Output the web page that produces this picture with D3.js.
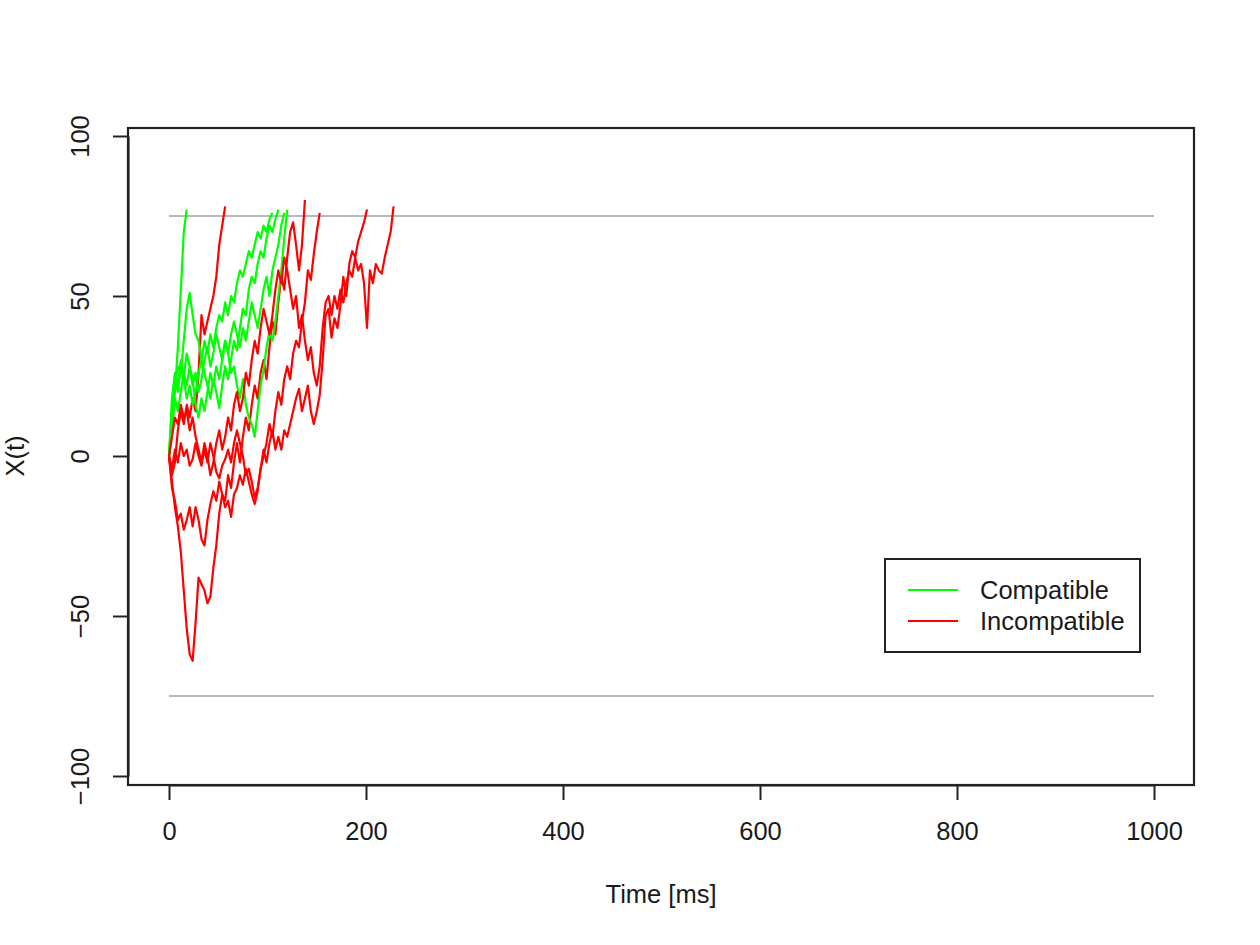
<!DOCTYPE html>
<html>
<head>
<meta charset="utf-8">
<script src="https://cdn.jsdelivr.net/npm/d3@7"></script>
<style>
  body { margin: 0; background: #fff; }
  svg text { font-family: "Liberation Sans", Arial, sans-serif; fill: #1a1a1a; }
</style>
</head>
<body>
<svg id="chart" width="1260" height="945"></svg>
<script>
// sampling step of the trials, in ms
var timeStep = 3;

// compatible trials, X(t) every 3 ms
var compatible1 = [0, 8, 20, 34, 52, 70, 77];
var compatible2 = [0, 12, 22, 28, 26, 36, 46, 51, 44, 38, 36, 30, 26, 22, 18, 24, 20, 15, 22, 28, 24, 30, 36, 33, 40, 46, 44, 52, 56, 54, 60, 64, 62, 68, 72, 70, 74, 77];
var compatible3 = [0, 15, 24, 20, 28, 25, 32, 28, 22, 26, 20, 24, 30, 34, 28, 32, 38, 34, 30, 36, 32, 26, 28, 22, 18, 24, 16, 12, 10, 6, 14, 22, 27, 34, 39, 36, 42, 50, 58, 68, 77];
var compatible4 = [0, 18, 26, 22, 30, 24, 18, 22, 16, 20, 26, 30, 36, 32, 38, 34, 40, 44, 42, 48, 44, 50, 48, 54, 58, 56, 60, 64, 62, 66, 70, 68, 72, 70, 74, 76];
var compatible5 = [0, 8, 18, 14, 20, 26, 22, 28, 24, 16, 12, 18, 14, 20, 26, 22, 28, 24, 30, 36, 32, 38, 42, 38, 34, 40, 36, 42, 48, 44, 40, 46, 52, 56, 50, 58, 62, 66, 72, 76];

// incompatible trials, X(t) every 3 ms
var incompatible1 = [0, -6, -2, 8, 14, 10, 16, 12, 18, 14, 26, 44, 38, 42, 46, 50, 56, 66, 72, 78];
var incompatible2 = [0, -8, -16, -22, -30, -42, -54, -62, -64, -52, -38, -40, -42, -46, -44, -35, -28, -18, -12, -14, -6, -10, -2, 4, -2, 6, 12, 8, 16, 22, 18, 26, 30, 24, 34, 42, 38, 48, 56, 52, 62, 70, 73, 66, 58, 66, 80];
var incompatible3 = [0, -10, -14, -20, -18, -23, -20, -16, -22, -16, -20, -26, -28, -20, -15, -11, -14, -8, -12, -16, -14, -19, -12, -10, -6, -9, -4, -8, -12, -15, -11, -4, 0, 4, 10, 6, 14, 20, 16, 24, 28, 24, 32, 36, 34, 42, 48, 58, 55, 63, 70, 76];
var incompatible4 = [0, -4, 2, -2, 4, 0, 2, -3, -1, 4, 0, -3, 2, -2, 4, 0, -5, -7, -3, -1, 2, -2, 4, 8, 4, 0, -6, -4, -8, -13, -10, -4, 2, -2, 4, 8, 2, 6, 2, 8, 6, 10, 14, 18, 21, 14, 18, 22, 14, 10, 14, 19, 30, 44, 46, 37, 43, 40, 47, 56, 50, 60, 64, 62, 67, 70, 73, 77];
var incompatible5 = [0, 6, 12, 10, 16, 12, 14, 8, 12, 6, 2, -2, 4, 0, -6, -2, 4, 8, 2, 6, 12, 8, 16, 20, 14, 18, 26, 22, 30, 36, 32, 40, 46, 42, 38, 44, 52, 58, 54, 62, 58, 52, 46, 50, 40, 44, 36, 30, 34, 26, 22, 28, 40, 48, 50, 44, 50, 46, 52, 48, 54, 58, 56, 62, 58, 60, 54, 40, 58, 54, 60, 58, 57, 62, 66, 70, 78];

var boundaries = [75, -75];
var xTicks = [0, 200, 400, 600, 800, 1000];
var yTicks = [-100, -50, 0, 50, 100];
var legendLabels = ["Compatible", "Incompatible"];

var compColor = "#00ff00",
    incompColor = "#ff0000";

// draw order as in the original (trials interleaved)
var trials = [
    { values: compatible1, color: compColor },
    { values: incompatible1, color: incompColor },
    { values: compatible2, color: compColor },
    { values: incompatible2, color: incompColor },
    { values: compatible3, color: compColor },
    { values: incompatible3, color: incompColor },
    { values: compatible4, color: compColor },
    { values: incompatible4, color: incompColor },
    { values: compatible5, color: compColor },
    { values: incompatible5, color: incompColor }
];

var svg = d3.select("#chart");

var x = d3.scaleLinear().domain([0, 1000]).range([169, 1154]),
    y = d3.scaleLinear().domain([-100, 100]).range([776, 136]);

var boxLeft = 128, boxRight = 1194, boxTop = 128, boxBottom = 785;
var fontSize = 25.5;

// boundary lines
svg.selectAll(".bound")
    .data(boundaries)
    .enter().append("line")
    .attr("class", "bound")
    .attr("x1", x(0))
    .attr("x2", x(1000))
    .attr("y1", function (d) { return y(d); })
    .attr("y2", function (d) { return y(d); })
    .attr("stroke", "#b8b8b8")
    .attr("stroke-width", 2.2);

var line = d3.line()
    .x(function (d, i) { return x(i * timeStep); })
    .y(function (d) { return y(d); });

svg.selectAll(".trial")
    .data(trials)
    .enter().append("path")
    .attr("class", "trial")
    .attr("d", function (d) { return line(d.values); })
    .attr("fill", "none")
    .attr("stroke", function (d) { return d.color; })
    .attr("stroke-width", 2.2)
    .attr("stroke-linejoin", "round");

// plot box
svg.append("rect")
    .attr("x", boxLeft)
    .attr("y", boxTop)
    .attr("width", boxRight - boxLeft)
    .attr("height", boxBottom - boxTop)
    .attr("fill", "none")
    .attr("stroke", "#222")
    .attr("stroke-width", 2.2);

// x axis
var gx = svg.append("g")
    .attr("transform", "translate(0," + boxBottom + ")")
    .call(d3.axisBottom(x).tickValues(xTicks).tickSize(15).tickSizeOuter(0).tickPadding(22)
        .tickFormat(function (d) { return String(d); }));

// y axis
var gy = svg.append("g")
    .attr("transform", "translate(" + boxLeft + ",0)")
    .call(d3.axisLeft(y).tickValues(yTicks).tickSize(15).tickSizeOuter(0)
        .tickFormat(function (d) { return d < 0 ? "\u2212" + Math.abs(d) : String(d); }));

gy.selectAll(".tick text")
    .attr("x", 0)
    .attr("y", 0)
    .attr("dy", 0)
    .attr("text-anchor", "middle")
    .attr("transform", "translate(-39,0) rotate(-90)");

[gx, gy].forEach(function (g) {
    g.select(".domain").attr("stroke", "#222").attr("stroke-width", 2.2);
    g.selectAll(".tick line").attr("stroke", "#222").attr("stroke-width", 2);
    g.selectAll(".tick text")
        .attr("font-size", fontSize)
        .attr("font-family", "Liberation Sans, Arial, sans-serif")
        .attr("fill", "#1a1a1a");
});

// axis titles
svg.append("text")
    .attr("x", 661)
    .attr("y", 903)
    .attr("text-anchor", "middle")
    .attr("font-size", fontSize)
    .text("Time [ms]");

svg.append("text")
    .attr("transform", "translate(24,456) rotate(-90)")
    .attr("text-anchor", "middle")
    .attr("font-size", fontSize)
    .text("X(t)");

// legend
var legend = svg.append("g");

legend.append("rect")
    .attr("x", 885)
    .attr("y", 559)
    .attr("width", 255)
    .attr("height", 93)
    .attr("fill", "#fff")
    .attr("stroke", "#222")
    .attr("stroke-width", 2);

var items = legend.selectAll(".item")
    .data(legendLabels)
    .enter().append("g")
    .attr("class", "item")
    .attr("transform", function (d, i) { return "translate(0," + (590 + i * 31) + ")"; });

items.append("line")
    .attr("x1", 908)
    .attr("x2", 958)
    .attr("stroke", function (d, i) { return i === 0 ? compColor : incompColor; })
    .attr("stroke-width", 2.2);

items.append("text")
    .attr("x", 980)
    .attr("y", 9)
    .attr("font-size", fontSize)
    .text(function (d) { return d; });
</script>
</body>
</html>
